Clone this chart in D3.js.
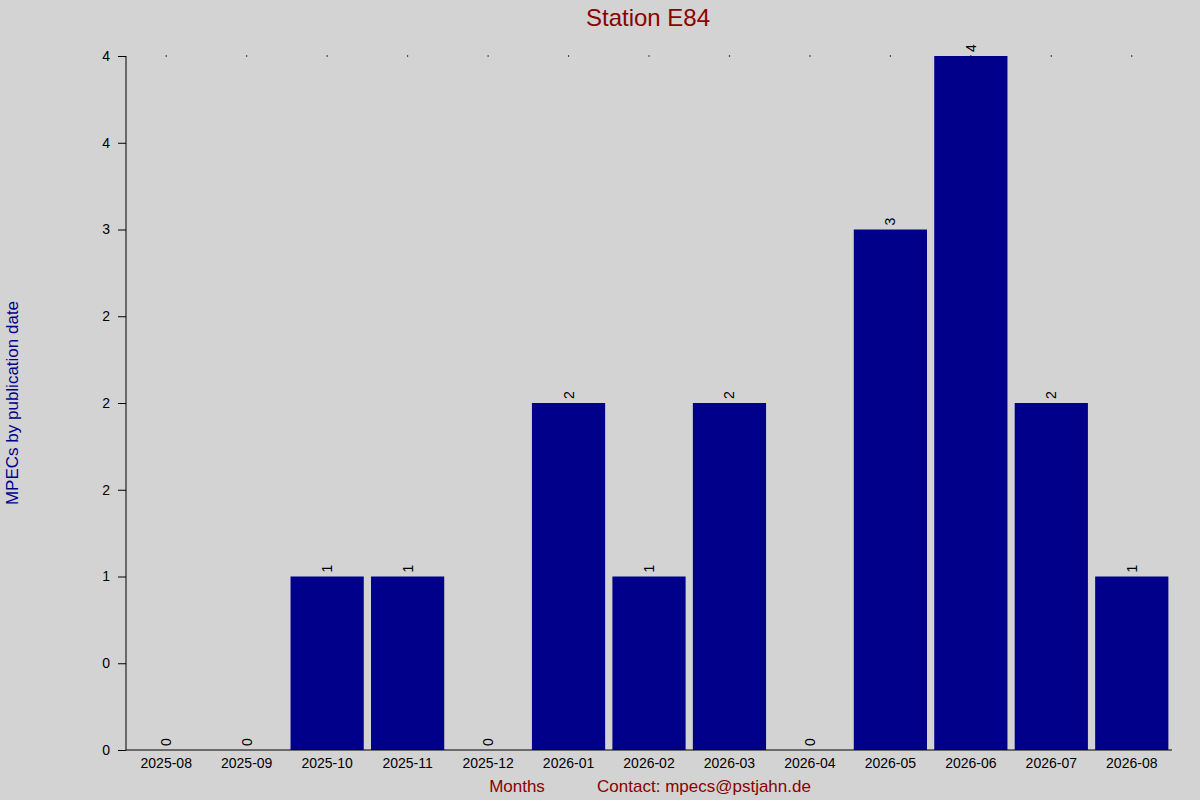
<!DOCTYPE html>
<html>
<head>
<meta charset="utf-8">
<script src="https://cdn.jsdelivr.net/npm/d3@7"></script>
<style>
  body { margin: 0; background: #d3d3d3; }
  text { font-family: "Liberation Sans", Arial, sans-serif; }
</style>
</head>
<body>
<svg id="chart" width="1200" height="800"></svg>
<script>
var months = ["2025-08", "2025-09", "2025-10", "2025-11", "2025-12", "2026-01", "2026-02",
  "2026-03", "2026-04", "2026-05", "2026-06", "2026-07", "2026-08"];
var counts = [0, 0, 1, 1, 0, 2, 1, 2, 0, 3, 4, 2, 1];
var yTicks = [0, 0.5, 1, 1.5, 2, 2.5, 3, 3.5, 4];

var svg = d3.select("#chart");
svg.append("rect").attr("width", 1200).attr("height", 800).attr("fill", "#d3d3d3");

var pLeft = 126, pRight = 1172, pTop = 56, pBottom = 750;

var x = d3.scaleBand().domain(months).range([pLeft, pRight]).paddingInner(0.09).paddingOuter(0.045);
var y = d3.scaleLinear().domain([0, 4]).range([pBottom, pTop]);

// round half to even, like the original labels
function fmt(v) {
  var f = Math.floor(v), r = v - f;
  if (r === 0.5) return String(f % 2 === 0 ? f : f + 1);
  return String(Math.round(v));
}

// bars
svg.selectAll("rect.bar")
  .data(counts)
  .enter().append("rect").attr("class", "bar")
  .attr("x", function(d, i) { return x(months[i]); })
  .attr("y", function(d) { return y(d); })
  .attr("width", x.bandwidth())
  .attr("height", function(d) { return pBottom - y(d); })
  .attr("fill", "#00008b");

// value labels
svg.selectAll("text.val")
  .data(counts)
  .enter().append("text").attr("class", "val")
  .attr("transform", function(d, i) {
    return "translate(" + (x(months[i]) + x.bandwidth() / 2 + 5) + "," + (y(d) - 4) + ") rotate(-90)";
  })
  .attr("font-size", 14)
  .attr("fill", "#000")
  .text(function(d) { return d; });

// y axis
var yAxis = d3.axisLeft(y).tickValues(yTicks).tickFormat(fmt).tickSize(8).tickPadding(8);
var gy = svg.append("g").attr("transform", "translate(" + pLeft + ",0)").call(yAxis);
gy.select(".domain").attr("d", "M0," + pTop + "V" + pBottom).attr("stroke", "#000");
gy.selectAll("text").attr("font-size", 14).attr("fill", "#000");

// x axis
var gx = svg.append("g").attr("transform", "translate(0," + pBottom + ")")
  .call(d3.axisBottom(x).tickSize(0).tickPadding(8));
gx.select(".domain").attr("d", "M" + pLeft + ",0H" + pRight).attr("stroke", "#000");
gx.selectAll("text").attr("font-size", 14).attr("fill", "#000");

// dotted top marks
svg.selectAll("circle.dot")
  .data(months)
  .enter().append("circle").attr("class", "dot")
  .attr("cx", function(d) { return x(d) + x.bandwidth() / 2; })
  .attr("cy", pTop)
  .attr("r", 0.7)
  .attr("fill", "#000");

// titles
svg.append("text").attr("x", 648).attr("y", 26).attr("text-anchor", "middle")
  .attr("font-size", 24).attr("fill", "#8b0000").text("Station E84");
svg.append("text").attr("x", 517).attr("y", 792).attr("text-anchor", "middle")
  .attr("font-size", 17).attr("fill", "#8b0000").text("Months");
svg.append("text").attr("x", 704).attr("y", 792).attr("text-anchor", "middle")
  .attr("font-size", 17).attr("fill", "#8b0000").text("Contact: mpecs@pstjahn.de");
svg.append("text").attr("transform", "translate(18,403) rotate(-90)").attr("text-anchor", "middle")
  .attr("font-size", 17).attr("fill", "#00008b").text("MPECs by publication date");
</script>
</body>
</html>
